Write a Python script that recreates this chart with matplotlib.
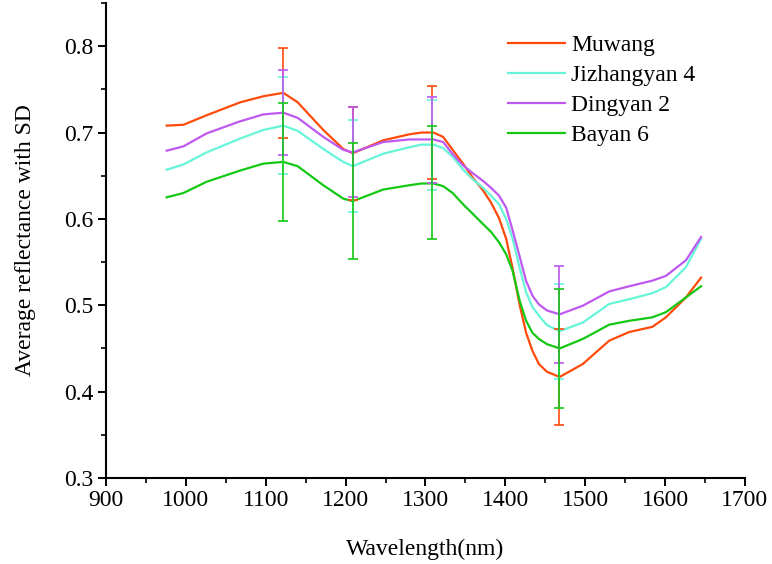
import numpy as np
import matplotlib
matplotlib.use('Agg')
import matplotlib.pyplot as plt
from matplotlib.ticker import MultipleLocator

plt.rcParams['font.family'] = ['Liberation Serif', 'DejaVu Serif']

# wavelength grid (nm)
wl = [976, 997, 1026, 1068, 1097, 1122, 1140, 1172, 1197, 1209, 1247, 1280, 1295, 1310,
      1322, 1334, 1347, 1359, 1372, 1382, 1392, 1401, 1409, 1418, 1426, 1434, 1442, 1452,
      1468, 1497, 1530, 1555, 1584, 1601, 1626, 1645]

muwang = [0.708, 0.709, 0.720, 0.735, 0.742, 0.746, 0.735, 0.703, 0.681, 0.676, 0.691,
          0.698, 0.700, 0.700, 0.695, 0.680, 0.664, 0.648, 0.633, 0.619, 0.601, 0.577,
          0.543, 0.500, 0.468, 0.447, 0.432, 0.423, 0.417, 0.432, 0.459, 0.469, 0.475,
          0.486, 0.509, 0.532]
jizhangyan4 = [0.657, 0.663, 0.677, 0.693, 0.703, 0.708, 0.702, 0.681, 0.666, 0.661, 0.6755,
               0.683, 0.686, 0.686, 0.682, 0.672, 0.657, 0.646, 0.636, 0.627, 0.617, 0.600,
               0.577, 0.543, 0.515, 0.498, 0.488, 0.477, 0.470, 0.480, 0.5015, 0.507, 0.514,
               0.521, 0.544, 0.577]
dingyan2 = [0.679, 0.684, 0.699, 0.713, 0.721, 0.723, 0.717, 0.695, 0.680, 0.677, 0.689,
            0.692, 0.692, 0.692, 0.689, 0.675, 0.662, 0.653, 0.644, 0.636, 0.627, 0.613,
            0.587, 0.556, 0.528, 0.511, 0.501, 0.494, 0.4895, 0.4995, 0.516, 0.522, 0.5285,
            0.534, 0.552, 0.579]
bayan6 = [0.625, 0.630, 0.643, 0.656, 0.664, 0.666, 0.661, 0.639, 0.6235, 0.6205, 0.634,
          0.639, 0.641, 0.641, 0.638, 0.630, 0.617, 0.606, 0.594, 0.585, 0.573, 0.559,
          0.540, 0.505, 0.482, 0.468, 0.461, 0.455, 0.450, 0.461, 0.4775, 0.482, 0.486,
          0.492, 0.509, 0.522]

# SD error bars at four wavelengths
err_wl = [1121, 1209, 1308, 1467]
muwang_mean = [0.746, 0.676, 0.700, 0.417]
muwang_sd = [0.052, 0.054, 0.054, 0.056]
jizhangyan4_mean = [0.708, 0.661, 0.686, 0.470]
jizhangyan4_sd = [0.056, 0.053, 0.052, 0.055]
dingyan2_mean = [0.723, 0.677, 0.691, 0.4895]
dingyan2_sd = [0.049, 0.052, 0.050, 0.056]
bayan6_mean = [0.666, 0.6205, 0.642, 0.450]
bayan6_sd = [0.068, 0.067, 0.065, 0.069]

labels = ['Muwang', 'Jizhangyan 4', 'Dingyan 2', 'Bayan 6']
colors = ['#FF4A0A', '#66F5D8', '#BE58F0', '#14C814']
curves = [muwang, jizhangyan4, dingyan2, bayan6]
means = [muwang_mean, jizhangyan4_mean, dingyan2_mean, bayan6_mean]
sds = [muwang_sd, jizhangyan4_sd, dingyan2_sd, bayan6_sd]

fig = plt.figure(figsize=(7.72, 5.64), dpi=100)
ax = fig.add_axes([0.1373, 0.1525, 0.8277, 0.8422])

for y, c, lab in zip(curves, colors, labels):
    ax.plot(wl, y, color=c, lw=1.6, label=lab, zorder=2, solid_joinstyle='round')

for m, s, c in zip(means, sds, colors):
    ax.errorbar(err_wl, m, yerr=s, fmt='none', ecolor=c, elinewidth=1.2,
                capsize=3.8, capthick=1.2, zorder=3)

ax.set_xlim(900, 1700)
ax.set_ylim(0.3, 0.85)
ax.xaxis.set_major_locator(MultipleLocator(100))
ax.xaxis.set_minor_locator(MultipleLocator(50))
ax.yaxis.set_minor_locator(MultipleLocator(0.05))
ax.set_yticks([0.3, 0.4, 0.5, 0.6, 0.7, 0.8])

for side in ['top', 'right']:
    ax.spines[side].set_visible(False)
for side in ['left', 'bottom']:
    ax.spines[side].set_linewidth(1.5)

ax.tick_params(which='major', direction='out', length=6, width=1.4, labelsize=17, pad=3)
ax.tick_params(which='minor', direction='out', length=3.5, width=1.2)

ax.set_xlabel('Wavelength(nm)', fontsize=17, labelpad=20)
ax.set_ylabel('Average reflectance with SD', fontsize=17, labelpad=20)

ax.legend(loc='upper left', bbox_to_anchor=(0.629, 0.933), frameon=False, fontsize=17,
          handlelength=2.4, handletextpad=0.28, labelspacing=0.36, borderaxespad=0,
          borderpad=0)

fig.savefig('out.png', dpi=100)
